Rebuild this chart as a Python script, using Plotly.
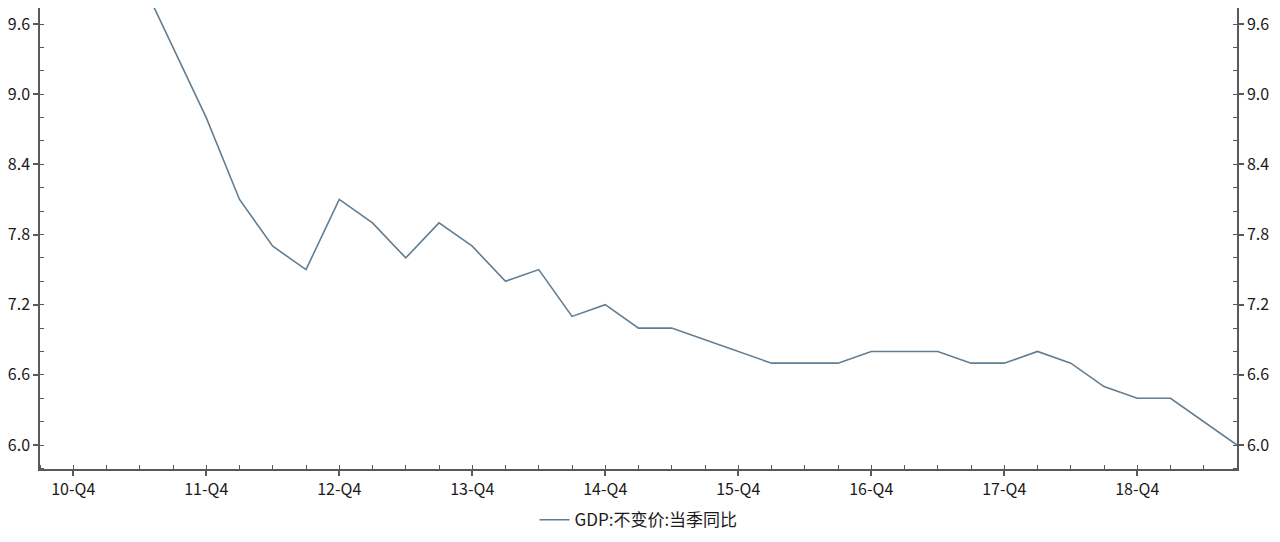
import plotly.graph_objects as go

# 季度 & GDP 当季同比 (%)
quarters = [
    "10-Q4",
    "11-Q1", "11-Q2", "11-Q3", "11-Q4",
    "12-Q1", "12-Q2", "12-Q3", "12-Q4",
    "13-Q1", "13-Q2", "13-Q3", "13-Q4",
    "14-Q1", "14-Q2", "14-Q3", "14-Q4",
    "15-Q1", "15-Q2", "15-Q3", "15-Q4",
    "16-Q1", "16-Q2", "16-Q3", "16-Q4",
    "17-Q1", "17-Q2", "17-Q3", "17-Q4",
    "18-Q1", "18-Q2", "18-Q3", "18-Q4",
    "19-Q1", "19-Q2", "19-Q3",
]
gdp_yoy = [
    10.2,
    10.2, 10.0, 9.4, 8.8,
    8.1, 7.7, 7.5, 8.1,
    7.9, 7.6, 7.9, 7.7,
    7.4, 7.5, 7.1, 7.2,
    7.0, 7.0, 6.9, 6.8,
    6.7, 6.7, 6.7, 6.8,
    6.8, 6.8, 6.7, 6.7,
    6.8, 6.7, 6.5, 6.4,
    6.4, 6.2, 6.0,
]
y_ticks = [6.0, 6.6, 7.2, 7.8, 8.4, 9.0, 9.6]
series_name = "GDP:不变价:当季同比"

x_idx = list(range(len(quarters)))
q4_idx = [i for i, q in enumerate(quarters) if q.endswith("Q4")]
q4_lab = [quarters[i] for i in q4_idx]

line_color = "#627d92"
axis_color = "#595959"
font = dict(family="Noto Sans CJK SC, Noto Sans, sans-serif", size=16, color="#1a1a1a")

fig = go.Figure()
fig.add_trace(go.Scatter(x=x_idx, y=gdp_yoy, mode="lines", name=series_name,
                         line=dict(color=line_color, width=1.6)))
# 右轴用的透明副本
fig.add_trace(go.Scatter(x=x_idx, y=gdp_yoy, mode="lines", yaxis="y2",
                         showlegend=False, hoverinfo="skip", opacity=0,
                         line=dict(color=line_color, width=1.6)))

y_common = dict(range=[5.795, 9.737], tickvals=y_ticks, tickformat=".1f",
                showgrid=False, zeroline=False, showline=True, automargin=False,
                linecolor=axis_color, linewidth=1.5,
                ticks="outside", ticklen=5, tickwidth=1.5, tickcolor=axis_color,
                tickfont=font,
                minor=dict(dtick=0.2, tick0=5.8, ticks="inside", ticklen=4,
                           tickwidth=1.2, tickcolor=axis_color, showgrid=False))

# 页面 body 有 8px 外边距，这里把尺寸收一点
fig.update_layout(
    width=1264, height=526,
    margin=dict(l=32, r=35, t=0, b=65, autoexpand=False),
    paper_bgcolor="white", plot_bgcolor="white",
    font=font,
    xaxis=dict(range=[-1, len(quarters) - 1], tickvals=q4_idx, ticktext=q4_lab,
               showgrid=False, zeroline=False, showline=True, automargin=False,
               linecolor=axis_color, linewidth=1.5,
               ticks="outside", ticklen=5, tickwidth=1.5, tickcolor=axis_color,
               tickfont=font,
               minor=dict(dtick=1, tick0=0, ticks="inside", ticklen=4,
                          tickwidth=1.2, tickcolor=axis_color, showgrid=False)),
    yaxis=dict(side="left", **y_common),
    yaxis2=dict(side="right", overlaying="y", **y_common),
    showlegend=True,
    legend=dict(orientation="h", x=0.5, xanchor="center", y=-0.111, yanchor="middle",
                font=dict(family="Noto Sans CJK SC, sans-serif", size=17, color="#1a1a1a")),
)

fig.write_html("out.html")
